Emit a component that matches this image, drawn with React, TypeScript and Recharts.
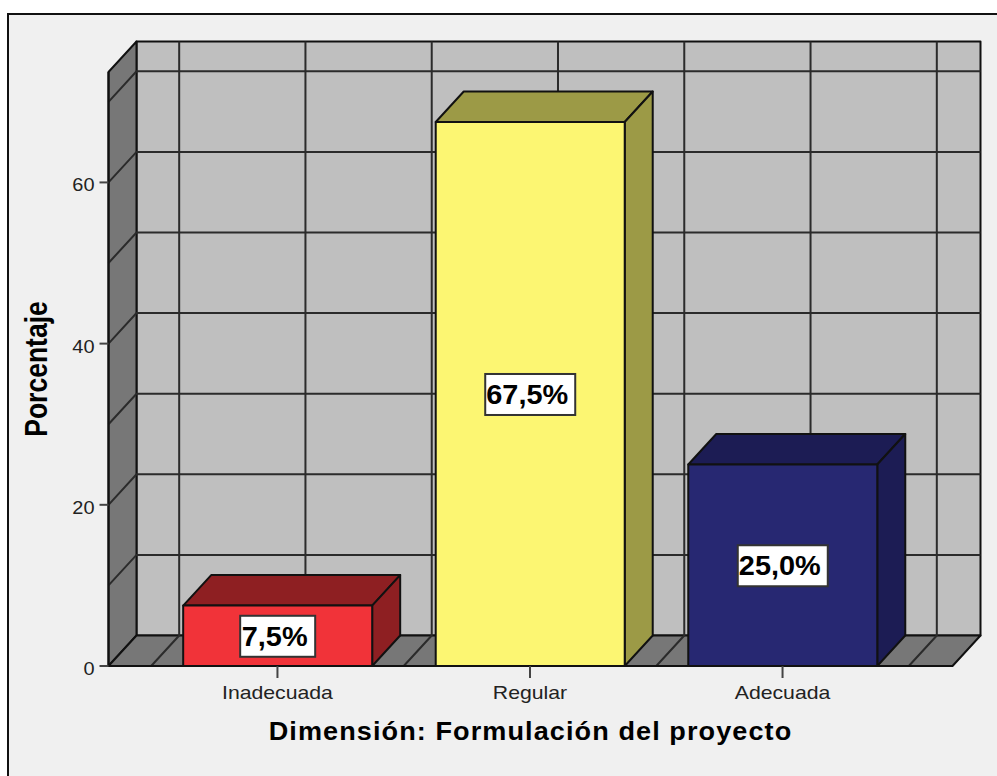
import {
  BarChart,
  Bar,
  XAxis,
  YAxis,
  ReferenceArea,
  ReferenceLine,
  LabelList,
} from "recharts";

const categories = ["Inadecuada", "Regular", "Adecuada"];
const percentages = [7.5, 67.5, 25.0];
const valueLabels = ["7,5%", "67,5%", "25,0%"];
const yTicks = [0, 20, 40, 60];
const yGridValues = [10, 20, 30, 40, 50, 60, 70];
const xGridValues = [-0.5, 0, 0.5, 1, 1.5, 2, 2.5];
const frontColors = ["#f13339", "#fcf672", "#272872"];
const topColors = ["#8e1f22", "#9c9a46", "#1c1c54"];

const data = percentages.map((value, i) => ({ position: i, value }));

const DX = 28;
const DY = 30.5;
const FONT = "'Liberation Sans', Arial, sans-serif";

function Walls({ x, y, width, height }: any) {
  const b = y + height;
  const r = x + width;
  return (
    <g stroke="#111" strokeWidth={2} strokeLinejoin="round">
      <rect x={x + DX} y={y - DY} width={width} height={height} fill="#bfbfbf" />
      <path d={`M${x},${b}L${x + DX},${b - DY}L${x + DX},${y - DY}L${x},${y}Z`} fill="#777777" />
      <path d={`M${x},${b}L${x + DX},${b - DY}L${r + DX},${b - DY}L${r},${b}Z`} fill="#777777" />
    </g>
  );
}

function WallLineY({ x1, x2, y1 }: any) {
  return (
    <path
      d={`M${x1},${y1}L${x1 + DX},${y1 - DY}L${x2 + DX},${y1 - DY}`}
      fill="none"
      stroke="#2b2b2b"
      strokeWidth={2}
    />
  );
}

function WallLineX({ x1, y1, y2 }: any) {
  const top = Math.min(y1, y2);
  const bottom = Math.max(y1, y2);
  return (
    <path
      d={`M${x1},${bottom}L${x1 + DX},${bottom - DY}L${x1 + DX},${top - DY}`}
      fill="none"
      stroke="#2b2b2b"
      strokeWidth={2}
    />
  );
}

function Box3D({ x, y, width, height, index }: any) {
  const r = x + width;
  const b = y + height;
  return (
    <g stroke="#111" strokeWidth={2} strokeLinejoin="round">
      <path
        d={`M${x},${y}L${x + DX},${y - DY}L${r + DX},${y - DY}L${r},${y}Z`}
        fill={topColors[index]}
      />
      <path
        d={`M${r},${y}L${r + DX},${y - DY}L${r + DX},${b - DY}L${r},${b}Z`}
        fill={topColors[index]}
      />
      <rect x={x} y={y} width={width} height={height} fill={frontColors[index]} />
    </g>
  );
}

function ValueLabel({ x, y, width, height, index }: any) {
  const text = valueLabels[index];
  const boxW = text.length > 4 ? 90 : 75;
  const cx = x + width / 2;
  const cy = y + height / 2;
  return (
    <g>
      <rect
        x={cx - boxW / 2}
        y={cy - 20}
        width={boxW}
        height={41}
        fill="#fff"
        stroke="#333"
        strokeWidth={2}
      />
      <text
        transform={`translate(${cx - 3},${cy + 10}) scale(1.07,1)`}
        textAnchor="middle"
        fontFamily={FONT}
        fontWeight="bold"
        fontSize={27}
        fill="#000"
      >
        {text}
      </text>
    </g>
  );
}

function CategoryTick({ x, y, payload }: any) {
  return (
    <text
      transform={`translate(${x},${y + 19}) scale(1.18,1)`}
      textAnchor="middle"
      fontFamily={FONT}
      fontSize={18}
      fill="#222"
    >
      {categories[payload.value]}
    </text>
  );
}

function ValueTick({ x, y, payload }: any) {
  return (
    <text
      transform={`translate(${x - 3},${y + 9}) scale(1.05,1)`}
      textAnchor="end"
      fontFamily={FONT}
      fontSize={19}
      fill="#222"
    >
      {payload.value}
    </text>
  );
}

function YTitle({ viewBox }: any) {
  const cy = viewBox.y + viewBox.height / 2;
  return (
    <text
      transform={`translate(47,${cy}) rotate(-90) scale(1,1.2)`}
      textAnchor="middle"
      fontFamily={FONT}
      fontWeight="bold"
      fontSize={26.5}
      fill="#000"
    >
      Porcentaje
    </text>
  );
}

function XTitle({ viewBox }: any) {
  const cx = viewBox.x + viewBox.width / 2;
  return (
    <text
      transform={`translate(${cx},740) scale(1.083,1)`}
      textAnchor="middle"
      fontFamily={FONT}
      fontWeight="bold"
      fontSize={25}
      letterSpacing={1}
      fill="#000"
    >
      Dimensión: Formulación del proyecto
    </text>
  );
}

export default function App() {
  return (
    <div style={{ position: "absolute", left: 0, top: 0, width: 997, height: 776, background: "#fff" }}>
      <div
        style={{
          position: "absolute",
          left: 7,
          top: 13,
          right: 0,
          bottom: 0,
          background: "#f0f0f0",
          borderLeft: "2px solid #111",
          borderTop: "2px solid #111",
        }}
      />
      <div style={{ position: "absolute", left: 0, top: 0 }}>
        <BarChart
          width={997}
          height={776}
          data={data}
          barSize={189}
          margin={{ top: 72, right: 44.5, bottom: 0, left: 48.5 }}
        >
          <XAxis
            dataKey="position"
            type="number"
            domain={[-0.669, 2.673]}
            ticks={[0, 1, 2]}
            height={110}
            tickSize={12}
            tickLine={{ stroke: "#444", strokeWidth: 2 }}
            axisLine={{ stroke: "#111", strokeWidth: 2 }}
            tick={<CategoryTick />}
            label={<XTitle />}
          />
          <YAxis
            type="number"
            domain={[0, 73.7]}
            ticks={yTicks}
            width={60}
            tickSize={9}
            tickLine={{ stroke: "#444", strokeWidth: 2 }}
            axisLine={{ stroke: "#111", strokeWidth: 2 }}
            tick={<ValueTick />}
            label={<YTitle />}
          />
          <ReferenceArea
            x1={-0.669}
            x2={2.673}
            y1={0}
            y2={73.7}
            shape={<Walls />}
            zIndex={50}
          />
          {yGridValues.map((v) => (
            <ReferenceLine key={v} y={v} shape={<WallLineY />} zIndex={60} />
          ))}
          {xGridValues.map((v) => (
            <ReferenceLine key={v} x={v} shape={<WallLineX />} zIndex={60} />
          ))}
          <Bar dataKey="value" shape={<Box3D />} isAnimationActive={false}>
            <LabelList dataKey="value" content={<ValueLabel />} />
          </Bar>
        </BarChart>
      </div>
    </div>
  );
}
